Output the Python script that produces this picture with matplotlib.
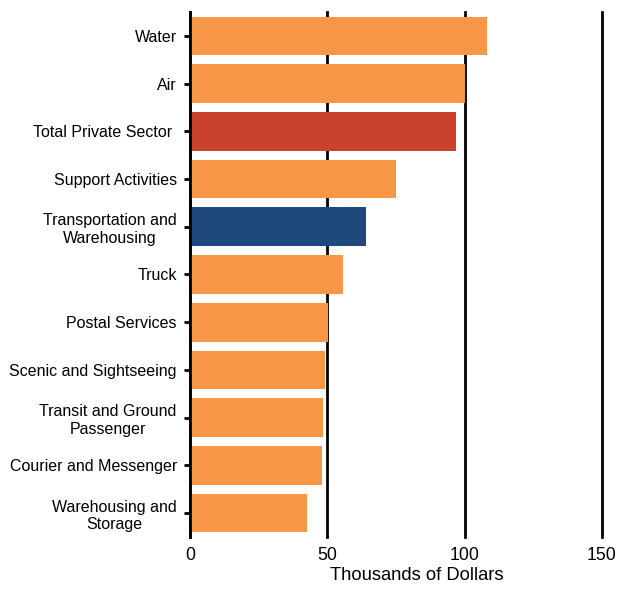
import matplotlib
matplotlib.use("Agg")
import matplotlib.pyplot as plt

categories = ["Water", "Air", "Total Private Sector ", "Support Activities",
              "Transportation and\nWarehousing", "Truck", "Postal Services",
              "Scenic and Sightseeing", "Transit and Ground\nPassenger",
              "Courier and Messenger", "Warehousing and\nStorage"]
values = [108.0, 100.0, 97.0, 75.0, 63.9, 55.6, 50.4, 49.3, 48.4, 48.1, 42.7]
ORANGE, RED, BLUE = "#F79646", "#C9432C", "#1F497D"
colors = [ORANGE, ORANGE, RED, ORANGE, BLUE, ORANGE, ORANGE, ORANGE, ORANGE, ORANGE, ORANGE]
xticks = [0, 50, 100, 150]

plt.rcParams["font.family"] = ["Liberation Sans", "DejaVu Sans"]

fig = plt.figure(figsize=(6.18, 5.91), dpi=100)
ax = fig.add_axes([190/618, 54/591, 412/618, 525/591])

ypos = list(range(len(categories)))
ax.barh(ypos, values, height=0.81, color=colors, zorder=2)

ax.set_ylim(len(categories) - 0.5, -0.5)
ax.set_xlim(0, 150)
ax.set_yticks(ypos)
ax.set_yticklabels(categories, fontsize=11.5, multialignment="center", linespacing=1.2)
ax.set_xticks(xticks)
ax.set_xticklabels([str(t) for t in xticks], fontsize=12.7)
ax.tick_params(axis="y", length=4, width=2, pad=5.5, direction="out")
ax.tick_params(axis="x", length=0, pad=7)
ax.set_xlabel("Thousands of Dollars", fontsize=13.2, labelpad=2, x=0.551)

for s in ["top", "right", "bottom"]:
    ax.spines[s].set_visible(False)
ax.spines["left"].set_linewidth(2)
ax.spines["left"].set_zorder(3)

ax.xaxis.grid(True, color="black", linewidth=2)
ax.set_axisbelow(True)
for gl in ax.get_xgridlines():
    gl.set_clip_on(False)

fig.savefig("out.png", dpi=100)
